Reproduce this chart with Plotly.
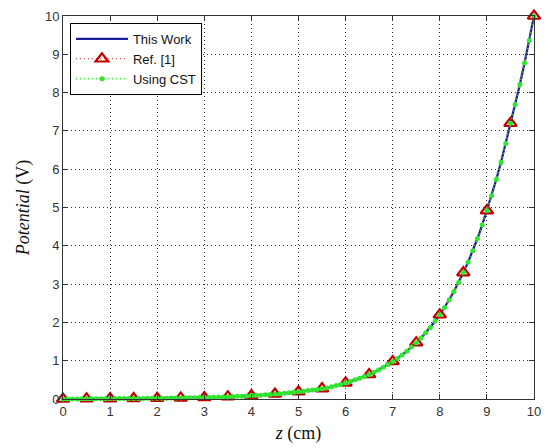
import plotly.graph_objects as go

# Ref. [1] samples (red triangles)
z_ref = [0, 0.5, 1, 1.5, 2, 2.5, 3, 3.5, 4, 4.5, 5, 5.5, 6, 6.5, 7, 7.5, 8, 8.5, 9, 9.5, 10]
v_ref = [0.0, 0.006, 0.01, 0.014, 0.02, 0.028, 0.04, 0.06, 0.09, 0.13, 0.19, 0.27, 0.42, 0.64,
         0.98, 1.47, 2.2, 3.3, 4.92, 7.2, 10.0]

# This Work / Using CST (dense samples)
z_fine = [round(i * 0.1, 1) for i in range(101)]
v_work = [0.0, 0.001, 0.002, 0.003, 0.005, 0.006, 0.007, 0.008, 0.008, 0.009,
          0.01, 0.011, 0.011, 0.012, 0.013, 0.014, 0.015, 0.016, 0.017, 0.018,
          0.02, 0.021, 0.022, 0.024, 0.026, 0.028, 0.03, 0.032, 0.035, 0.037,
          0.04, 0.043, 0.046, 0.05, 0.055, 0.06, 0.065, 0.07, 0.075, 0.08,
          0.09, 0.095, 0.10, 0.11, 0.12, 0.13, 0.14, 0.15, 0.16, 0.175,
          0.19, 0.20, 0.22, 0.235, 0.25, 0.27, 0.29, 0.32, 0.35, 0.38,
          0.42, 0.46, 0.50, 0.54, 0.59, 0.64, 0.70, 0.76, 0.83, 0.90,
          0.98, 1.06, 1.15, 1.25, 1.36, 1.47, 1.59, 1.73, 1.87, 2.03,
          2.2, 2.39, 2.59, 2.81, 3.04, 3.30, 3.57, 3.87, 4.19, 4.54,
          4.92, 5.31, 5.73, 6.18, 6.67, 7.2, 7.69, 8.21, 8.77, 9.36, 10.0]
v_cst = list(v_work)

ticks = list(range(0, 11))

fig = go.Figure()
fig.add_trace(go.Scatter(x=z_fine, y=v_work, mode="lines", name="This Work",
                         line=dict(color="#1c1c9c", width=2.2), cliponaxis=False))
fig.add_trace(go.Scatter(x=z_ref, y=v_ref, mode="lines+markers", name="Ref. [1]",
                         line=dict(color="#d01010", width=1, dash="1px,3px"),
                         marker=dict(symbol="triangle-up-open", size=11, color="#c00000",
                                     line=dict(width=2.2, color="#c00000")),
                         cliponaxis=False))
fig.add_trace(go.Scatter(x=z_fine, y=v_cst, mode="lines+markers", name="Using CST",
                         line=dict(color="#2ee82e", width=1.6, dash="1px,3px"),
                         marker=dict(symbol="circle", size=5, color="#2ee82e"),
                         cliponaxis=False))

axis_common = dict(
    range=[0, 10], tickvals=ticks, ticktext=[str(t) for t in ticks],
    showgrid=True, gridcolor="#333333", griddash="1px,3px", gridwidth=1,
    showline=True, linecolor="#333333", linewidth=1, mirror="ticks",
    ticks="inside", ticklen=5, tickcolor="#333333",
    tickfont=dict(family="Liberation Sans, Arial", size=13, color="#333333"),
    zeroline=False,
)

fig.update_layout(
    width=550, height=448,
    margin=dict(l=63, r=9, t=16, b=49),
    paper_bgcolor="white", plot_bgcolor="white",
    showlegend=True,
    legend=dict(x=0.0147, y=0.982, xanchor="left", yanchor="top",
                bgcolor="white", bordercolor="#000000", borderwidth=1,
                font=dict(family="Liberation Sans, Arial", size=13, color="#111111"),
                itemwidth=52, tracegroupgap=0),
    xaxis=dict(**axis_common,
               title=dict(text="<i>z</i> (cm)", standoff=8,
                          font=dict(family="Liberation Serif", size=18, color="#111111"))),
    yaxis=dict(**axis_common,
               title=dict(text="<i>Potential</i> (V)", standoff=10,
                          font=dict(family="Liberation Serif", size=18, color="#111111"))),
)

fig.write_html("out.html")
